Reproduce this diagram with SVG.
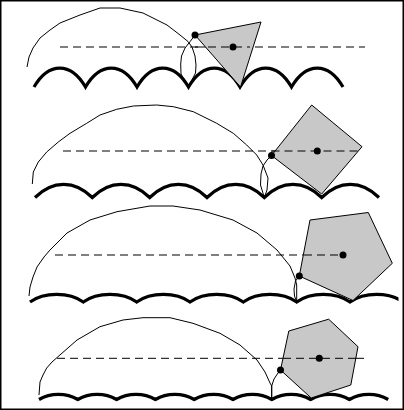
<svg xmlns="http://www.w3.org/2000/svg" width="404" height="410" viewBox="0 0 404 410">
<defs>
<style>
.road{fill:none;stroke:#000;stroke-width:3.2;stroke-linejoin:miter;stroke-linecap:butt}
.trace{fill:none;stroke:#000;stroke-width:1;stroke-linejoin:round}
.axle{fill:none;stroke:#000;stroke-width:1;stroke-dasharray:8 5}
.wheel{fill:#c8c8c8;stroke:#000;stroke-width:1;stroke-linejoin:miter}
.dot{fill:#000}
</style>
<clipPath id="clip3"><rect x="0" y="200" width="398.5" height="110"/></clipPath>
</defs>
<rect x="0.75" y="0.75" width="402.5" height="408.5" fill="#fff" stroke="#000" stroke-width="1.5"/>

<g id="panel1">
<path class="road" d="M34,87 C48.6,61.7 70.9,61.7 85.5,87 C100.1,61.7 122.4,61.7 137,87 C151.6,61.7 173.9,61.7 188.5,87 C203.1,61.7 225.4,61.7 240,87 C254.6,61.7 276.9,61.7 291.5,87 C306.1,61.7 328.4,61.7 343,87"/>
<path class="trace" d="M27,67 L29,57 L33,48 L40,38 L50,30 L60,23 L80,15 L100,8 L120,8 L143,13 L155,19 L167,25 L180,35 L188,41.5 L192,47 L195,56 L196,65 L195.5,73 L188.5,87 L181,74 L180.7,64 L181.5,56 L185,48 L190,41.7 L195,35"/>
<line class="axle" x1="60" y1="47" x2="365" y2="47"/>
<polygon class="wheel" points="195,35 261,22 240.5,87"/>
<line class="axle" x1="195" y1="47" x2="250" y2="47"/>
<circle class="dot" cx="195" cy="35" r="3.5"/>
<circle class="dot" cx="233" cy="47" r="3.5"/>
</g>

<g id="panel2">
<path class="road" d="M35,197.5 C52.6,179.9 74.7,179.9 92.3,197.5 C109.9,179.9 132.1,179.9 149.7,197.5 C167.3,179.9 189.4,179.9 207,197.5 C224.6,179.9 246.7,179.9 264.3,197.5 C281.9,179.9 304.1,179.9 321.7,197.5 C339.3,179.9 361.4,179.9 379,197.5"/>
<path class="trace" d="M32.3,184 L33.3,172 L38.3,162 L46.7,152 L58.3,142 L70,133.3 L86.7,123.3 L100,115 L116.7,109.3 L133.3,106 L156.7,105 L173.3,106.7 L193.3,111.7 L216.7,123.3 L233.3,133.3 L246.7,145 L256.7,155 L263,165 L268,178 L267,190 L264.3,197.5 L260.5,185 L261,174 L263,166 L267,160 L271.5,155.5"/>
<line class="axle" x1="63" y1="151" x2="362" y2="151"/>
<polygon class="wheel" points="271.5,155.5 311.7,105 362,146.7 321.7,194"/>
<line class="axle" x1="271.5" y1="151" x2="362" y2="151"/>
<circle class="dot" cx="271.5" cy="155.5" r="3.5"/>
<circle class="dot" cx="317.3" cy="151" r="3.5"/>
</g>

<g id="panel3">
<path class="road" clip-path="url(#clip3)" d="M30,302 C44,291.8 69.3,291.8 83.3,302 C97.3,291.8 122.7,291.8 136.7,302 C150.7,291.8 176,291.8 190,302 C204,291.8 229.3,291.8 243.3,302 C257.3,291.8 282.7,291.8 296.7,302 C310.7,291.8 336,291.8 350,302 C364,291.8 389.3,291.8 403.3,302"/>
<path class="trace" d="M29,296 L30,287 L33,277 L37,267 L44,257 L50,250 L67,233 L90,220 L117,211.7 L150,206 L173,206 L200,210 L233,220 L257,233 L277,250 L290,266 L295,278 L296.7,285 L296.7,295 L296.7,302 L294.5,296 L294,289 L295.5,281 L299.3,276"/>
<line class="axle" x1="55" y1="255" x2="343" y2="255"/>
<polygon class="wheel" points="299.3,276 310,220 368.3,212.5 392.3,263.3 353,300.5"/>
<line class="axle" x1="304" y1="255" x2="343" y2="255"/>
<circle class="dot" cx="299.3" cy="276" r="3.5"/>
<circle class="dot" cx="343" cy="255" r="3.5"/>
</g>

<g id="panel4">
<path class="road" d="M39,399.5 C50.6,392.8 66.2,392.8 77.8,399.5 C89.4,392.8 105,392.8 116.6,399.5 C128.2,392.8 143.8,392.8 155.4,399.5 C167,392.8 182.6,392.8 194.2,399.5 C205.8,392.8 221.4,392.8 233,399.5 C244.6,392.8 260.2,392.8 271.8,399.5 C283.4,392.8 299,392.8 310.6,399.5 C322.2,392.8 337.8,392.8 349.4,399.5 C361,392.8 376.6,392.8 388.2,399.5"/>
<path class="trace" d="M39,395 L40,382 L43,375 L46.7,368 L52,362 L58,356.7 L77,340 L100,326.7 L123,320 L143,317.7 L170,317.7 L193,323.3 L220,333.3 L240,345 L257,360 L265,372 L270,383 L271.7,386 L271.7,400 L271.7,386 L274,379 L278,373 L280.7,370"/>
<line class="axle" x1="57" y1="358.3" x2="365" y2="358.3"/>
<polygon class="wheel" points="280.5,370 288.8,331 328.7,319.2 358,346.7 350.8,385 311.2,398"/>
<line class="axle" x1="283" y1="358.3" x2="358" y2="358.3"/>
<circle class="dot" cx="280.5" cy="370" r="3.5"/>
<circle class="dot" cx="319.3" cy="358.3" r="3.5"/>
</g>
</svg>
